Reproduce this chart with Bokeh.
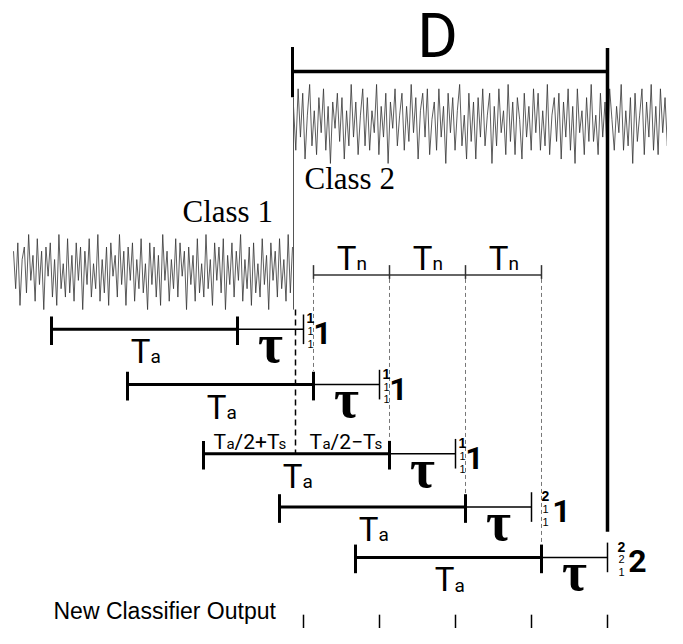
import numpy as np
from bokeh.plotting import figure
from bokeh.models import Range1d
from bokeh.core.properties import value
from bokeh.embed import file_html
from bokeh.resources import INLINE

# ---------------- data (diagram units = time axis in px-like units) ----------------
class1_noise = [5,-4,7,-8,3,6,-5,9,-2,4,-7,8,-3,5,-9,6,-1,7,-6,3,-8,9,-4,2,-6,8,-5,4,-7,7,
                -2,6,-9,5,-3,8,-6,2,-4,9,-7,3,-5,6,-8,7,-1,4,-6,9,-3,5,-8,6,-2,7,-7,3,-4,8,
                -5,2,-9,7,-3,6,-6,4,-8,9,-2,5,-7,3,-4,8,-6,7,-1,5,-9,6,-3,4,-7,8,-5,2,-6,9,
                -4,3,-8,7,-2,6,-5,8,-9,4,-3,7,-6,5,-2,9,-7,3,-4,6,-8,7,-5,2,-6,8,-3,4,-9,7,
                -2,5,-6,8,-4,3,-7,9,-5,6]
class2_noise = [4,-6,8,-3,7,-8,2,9,-5,3,-7,6,-2,8,-6,4,-9,5,-1,7,-4,6,-8,3,-5,9,-3,5,-7,2,
                8,-5,6,-6,3,-2,9,-7,4,-3,7,-9,5,-1,8,-5,2,7,-6,4,-4,9,-2,6,-8,3,7,-3,8,-7,
                1,5,-6,8,-3,4,-9,7,-2,6,-6,3,9,-5,2,-8,7,-4,5,-8,6,-3,8,-5,2,7,-9,4,-5,8,
                -2,3,-7,9,-4,5,-7,6,1,-8,7,-3,4,-6,8,-2,7,-6,3,-5,9,-7,2,6,-4,7,-8,5,-3,8,
                -6,4,-9,8,-2,3,-7,6,-4,9,-4,2,-7,7,-3,5,-8,8,1,-6,4,-2,9,-6,3,-5,6,-9,7,-4,
                2,8,-7,5,-3,9,-6,4,-7,8,-2,6,-5,7,-8,3,-4,9,-6,5]
class1_span = [13, 292]
class2_span = [293, 683]
class_change = 293
d_end = 607

window_starts = [51, 127, 203, 279, 355]
Ta = 186
tau = 66
vote_stacks = [["1", "1", "1"], ["1", "1", "1"], ["1", "1", "1"], ["2", "1", "1"], ["2", "2", "1"]]
outputs = ["1", "1", "1", "1", "2"]
class_labels = ["Class 1", "Class 2"]

# ---------------- layout ----------------
row_y = [333, 389, 459, 513, 564]
TN_Y = 278
NARROW = "Roboto"
SANS = "Liberation Sans"
SERIF = "Liberation Serif"

p = figure(width=667, height=628, x_range=Range1d(0, 667), y_range=Range1d(636, 0),
           output_backend="svg", toolbar_location=None, min_border=0)
p.axis.visible = False
p.grid.visible = False
p.outline_line_color = None
p.background_fill_color = "white"
p.border_fill_color = "white"


def seg(x0, y0, x1, y1, w=1.5, c="black", dash="solid"):
    p.segment(x0=[x0], y0=[y0], x1=[x1], y1=[y1], line_width=w, line_color=c, line_dash=dash)


def txt(x, y, s, size, font=NARROW, align="center", style="normal", color="black", base=True):
    # base=True: y is the alphabetic baseline; convert to a middle anchor
    yy = y - 0.37 * size if base else y
    p.text(x=[x], y=[yy], text=[s], text_font=value(font), text_font_size=value(f"{size}px"),
           text_font_style=value(style), text_align=value(align), text_baseline=value("middle"),
           text_color=value(color))


def sub_label(xc, yb, main, sub, size, ssize):
    txt(xc + 5, yb, main, size, align="right")
    txt(xc + 5, yb, sub, ssize, align="left")


# signals
x1 = np.linspace(class1_span[0], class1_span[1], len(class1_noise))
y1 = 275 - np.array(class1_noise) * 38 / 9
p.line(x1, y1, line_width=0.8, line_color="#333333")
x2 = np.linspace(class2_span[0], class2_span[1], len(class2_noise))
y2 = 125 - np.array(class2_noise) * 40 / 9
p.line(x2, y2, line_width=0.8, line_color="#333333")

# D bracket
txt(437, 35, "D", 62, base=False)
seg(class_change - 1, 72, d_end, 72, w=3.5)
seg(class_change - 1, 47, class_change - 1, 98, w=3)
seg(d_end, 48, d_end, 538, w=3.5)

# class boundary
seg(class_change, 98, class_change, 313, w=1, c="#555")
seg(class_change + 2, 313, class_change + 2, row_y[2], w=1.5, dash="6 4")

txt(182, 225, class_labels[0], 31, font=SERIF, align="left")
txt(304, 192, class_labels[1], 31, font=SERIF, align="left")

# Tn line
tn_pts = [s + Ta for s in window_starts[1:]]
seg(tn_pts[0], TN_Y, tn_pts[-1], TN_Y, w=1.5, c="#333")
for k, xt in enumerate(tn_pts):
    seg(xt, TN_Y - 10, xt, TN_Y + 4, w=1.5, c="#333")
    seg(xt, TN_Y + 4, xt, row_y[k + 1] - 14, w=1, c="#777", dash="4 3")
for a, b in zip(tn_pts[:-1], tn_pts[1:]):
    sub_label((a + b) / 2, TN_Y - 5, "T", "n", 33, 19)

# windows
for i, (s, y) in enumerate(zip(window_starts, row_y)):
    a_end = s + Ta
    e = a_end + tau
    seg(s, y, a_end, y, w=3)
    seg(a_end, y, e, y, w=1.5)
    seg(s, y - 13, s, y + 16, w=3)
    seg(a_end, y - 13, a_end, y + 16, w=3)
    seg(e, y - 15, e, y + 15, w=1.5)
    sub_label((s + a_end) / 2 + 1, y + 35, "T", "a", 33, 19)
    txt((a_end + e) / 2, y + 35, "τ", 54, font=SERIF, style="bold")
    has2 = "2" in vote_stacks[i]
    sdx = 14 if has2 else 7
    bdx = 30 if has2 else 19
    for j, (v, off) in enumerate(zip(vote_stacks[i], [-11, 2, 15])):
        txt(e + sdx, y + off, v, 14 if j == 0 else 11, font=SANS, base=False,
            style="bold" if j == 0 else "normal", color="black")
    txt(e + bdx, y + 4, outputs[i], 32, font=NARROW, base=False, style="bold")
    # output ticks at bottom
    seg(e, 622, e, 644, w=1.5)

# split labels on row 3
s3 = window_starts[2]
y3 = row_y[2]
m3 = s3 + Ta
yb3 = y3 - 4
txt(s3 + 10, yb3, "T", 21, align="left")
txt(s3 + 23, yb3, "a", 15, align="left")
txt(s3 + 31, yb3, "/2+T", 21, align="left")
txt(s3 + 75, yb3, "s", 15, align="left")
txt(m3 - 80, yb3, "T", 21, align="left")
txt(m3 - 67, yb3, "a", 15, align="left")
txt(m3 - 59, yb3, "/2−T", 21, align="left")
txt(m3 - 15, yb3, "s", 15, align="left")

txt(53, 627, "New Classifier Output", 23, font=SANS, align="left")

open("out.html", "w").write(file_html(p, INLINE))
